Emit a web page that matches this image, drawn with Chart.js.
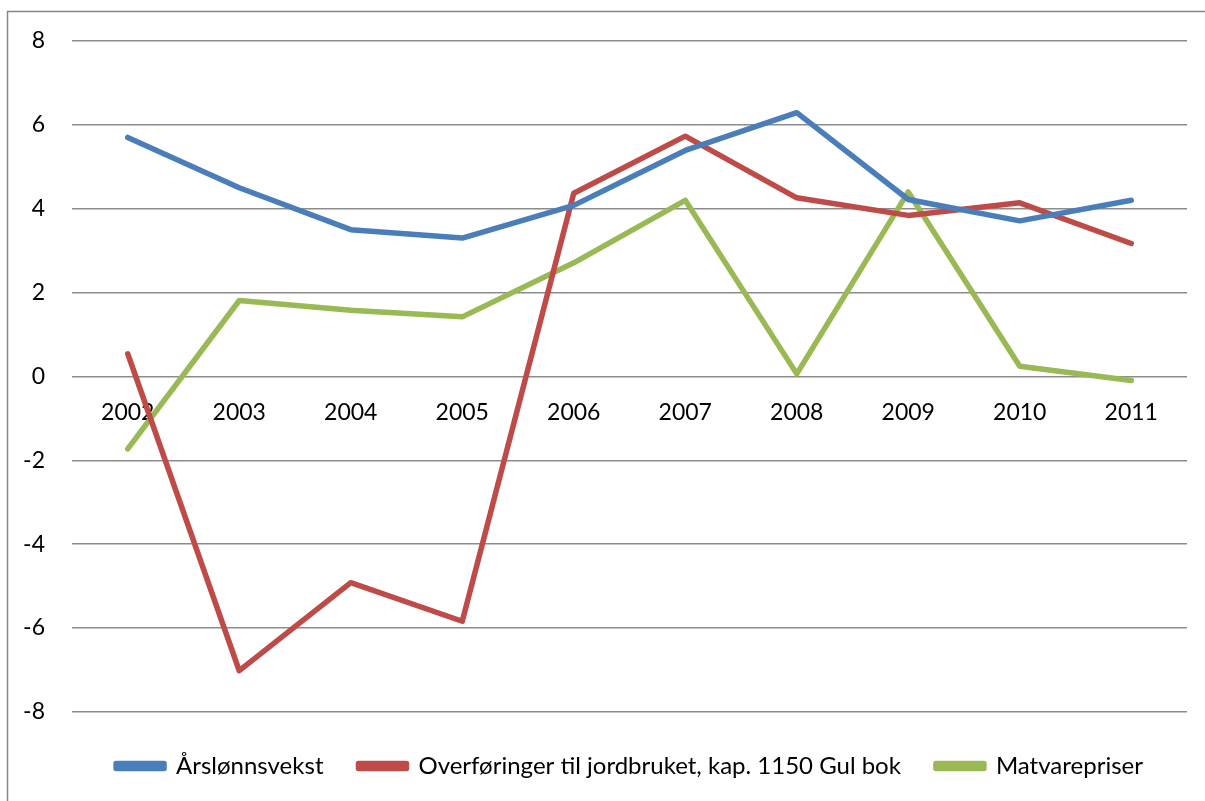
<!DOCTYPE html>
<html>
<head>
<meta charset="utf-8">
<script src="https://cdn.jsdelivr.net/npm/chart.js@4"></script>
<style>
  html, body { margin: 0; padding: 0; background: #fff; overflow: hidden; }
  #wrap { width: 1205px; height: 801px; }
</style>
</head>
<body>
<div id="wrap"><canvas id="chart" width="1205" height="801"></canvas></div>
<script>
const years = ["2002", "2003", "2004", "2005", "2006", "2007", "2008", "2009", "2010", "2011"];
const wageGrowth = [5.7, 4.5, 3.5, 3.3, 4.08, 5.39, 6.29, 4.22, 3.71, 4.2];
const farmTransfers = [0.54, -7.02, -4.92, -5.84, 4.37, 5.73, 4.26, 3.84, 4.14, 3.17];
const foodPrices = [-1.73, 1.81, 1.58, 1.42, 2.71, 4.2, 0.06, 4.4, 0.24, -0.1];
const yTicks = [-8, -6, -4, -2, 0, 2, 4, 6, 8];

const FONT = "Lato, 'Open Sans', sans-serif";

// grey frame round the chart, like the Excel chart area border
const frame = {
  id: "frame",
  beforeDraw(chart) {
    const ctx = chart.ctx;
    ctx.save();
    ctx.strokeStyle = "#868686";
    ctx.lineWidth = 1.5;
    ctx.strokeRect(7.5, 11.5, 1400, 1000);
    ctx.restore();
  },
};

function series(label, data, color) {
  return {
    label: label,
    data: data,
    borderColor: color,
    backgroundColor: color,
    borderWidth: 5.5,
    pointRadius: 0,
    pointHoverRadius: 0,
    tension: 0,
    borderCapStyle: "round",
    borderJoinStyle: "round",
  };
}

new Chart(document.querySelector("#chart").getContext("2d"), {
  type: "line",
  data: {
    labels: years,
    datasets: [
      series("Årslønnsvekst", wageGrowth, "#4A7EBB"),
      series("Overføringer til jordbruket, kap. 1150 Gul bok", farmTransfers, "#BE4B48"),
      series("Matvarepriser", foodPrices, "#98B954"),
    ],
  },
  options: {
    responsive: false,
    animation: false,
    layout: { padding: { top: 41, right: 18, left: 0, bottom: 13 } },
    plugins: {
      tooltip: { enabled: false },
      legend: {
        position: "bottom",
        fullSize: false,
        // empty title only used as a small spacer above the items
        title: { display: true, text: " ", font: { size: 1 }, padding: { top: 6, bottom: 0 } },
        labels: {
          font: { family: FONT, size: 24 },
          color: "#000",
          boxWidth: 48,
          boxHeight: 5,
          padding: 35,
        },
      },
    },
    scales: {
      x: {
        position: { y: 0 },
        offset: true,
        grid: { display: false, drawTicks: false },
        border: { display: false },
        ticks: {
          font: { family: FONT, size: 23 },
          color: "#000",
          padding: 22,
          maxRotation: 0,
        },
      },
      y: {
        min: -8,
        max: 8,
        afterFit(scale) {
          scale.width = 72;
        },
        afterBuildTicks(scale) {
          scale.ticks = yTicks.map((v) => ({ value: v }));
        },
        grid: { color: "#8c8c8c", lineWidth: 1.5, drawTicks: false },
        border: { display: false },
        ticks: {
          font: { family: FONT, size: 23 },
          color: "#000",
          padding: 27,
        },
      },
    },
  },
  plugins: [frame],
});
</script>
</body>
</html>
